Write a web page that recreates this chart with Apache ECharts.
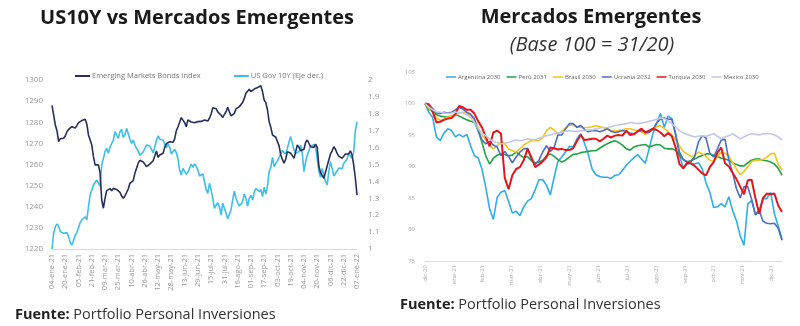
<!DOCTYPE html>
<html>
<head>
<meta charset="utf-8">
<script src="https://cdn.jsdelivr.net/npm/echarts@6/dist/echarts.min.js"></script>
<style>
html,body{margin:0;padding:0;background:#fff;}
#c{width:800px;height:326px;}
</style>
</head>
<body>
<div id="c"></div>
<script>
// ---------- Left chart data (every 2 days from 04-ene-21 to 07-ene-22) ----------
const leftStart = '2021-01-04';
const leftStepDays = 2;
const leftTicks = ['04-ene-21','20-ene-21','05-feb-21','21-feb-21','09-mar-21','25-mar-21','10-abr-21','26-abr-21','12-may-21','28-may-21','13-jun-21','29-jun-21','15-jul-21','31-jul-21','16-ago-21','01-sep-21','17-sep-21','03-oct-21','19-oct-21','04-nov-21','20-nov-21','06-dic-21','22-dic-21','07-ene-22'];
const embi = [
1288,1283.4,1278.7,1276,1270.8,1272.2,1272.4,1272.4,1273.5,1275.5,
1276.6,1277.4,1277.9,1277.4,1277.3,1278.4,1279.8,1280.4,1280.8,1281.4,
1281.4,1279.2,1274,1273.2,1269.2,1263.7,1259.8,1259.3,1259.8,1256,
1243.2,1239.3,1244,1247.6,1247.6,1248.6,1247.6,1248.7,1249.5,1248.2,
1248.4,1246.8,1245.1,1244,1245.1,1245.6,1248.4,1251.1,1251.9,1252.4,
1255.8,1258.2,1260.6,1262,1261.8,1261.2,1260.2,1259,1258.3,1260.2,
1259.9,1261.8,1264,1266.4,1263.4,1264.5,1265,1265.3,1268.1,1269.9,
1270.3,1270.8,1270.5,1270.5,1272.1,1276,1277.9,1280,1282.2,1281.5,
1279.8,1277.9,1281.1,1280.8,1280.1,1279.5,1279.8,1280.3,1280.3,1280.3,
1280.4,1280.8,1281.1,1281.4,1280.6,1281.9,1283.9,1286.9,1286.9,1286.4,
1284.9,1284.2,1283.3,1282.3,1282.6,1285,1287.1,1285,1283,1282.2,
1284.2,1286.3,1287.1,1287.4,1288.2,1289.3,1291.3,1293.7,1294.3,1295.6,
1294.5,1295,1295.7,1295.6,1296.4,1297.2,1297.3,1294.5,1290.5,1289.3,
1285.8,1280.3,1277.6,1274,1273.3,1272.9,1272.2,1268.8,1264.5,1262.4,
1260.6,1262.6,1266.1,1266.9,1265.3,1264.2,1262.9,1266.1,1269.2,1268.1,
1266.5,1265.8,1267.2,1270.5,1271.6,1270.8,1268.4,1269.2,1268.1,1269.7,
1268.1,1259.3,1256.1,1255.5,1253.5,1252.7,1259.3,1262.1,1265,1266.5,
1268.4,1267.2,1265.3,1264,1263.2,1262.9,1263.7,1265,1264.8,1265,
1266.5,1264.5,1259.8,1253.5,1245.5];
const us10y = [
1.0,1.093,1.132,1.148,1.136,1.103,1.108,1.093,1.097,1.097,
1.073,1.04,1.024,1.05,1.083,1.097,1.128,1.156,1.172,1.162,
1.191,1.172,1.25,1.32,1.329,1.379,1.389,1.408,1.418,1.37,
1.497,1.536,1.576,1.596,1.566,1.602,1.606,1.645,1.694,1.704,
1.655,1.694,1.708,1.661,1.675,1.714,1.714,1.649,1.625,1.645,
1.615,1.596,1.58,1.554,1.562,1.574,1.594,1.615,1.625,1.609,
1.59,1.57,1.602,1.645,1.669,1.649,1.653,1.645,1.621,1.6,
1.621,1.602,1.562,1.566,1.59,1.57,1.533,1.467,1.438,1.477,
1.483,1.442,1.454,1.465,1.503,1.483,1.503,1.491,1.467,1.432,
1.438,1.444,1.398,1.353,1.329,1.389,1.349,1.3,1.241,1.25,
1.274,1.25,1.201,1.27,1.266,1.211,1.179,1.172,1.231,1.29,
1.343,1.3,1.274,1.254,1.266,1.282,1.325,1.3,1.254,1.3,
1.318,1.29,1.335,1.359,1.353,1.339,1.353,1.31,1.365,1.325,
1.373,1.458,1.483,1.542,1.487,1.491,1.523,1.542,1.531,1.582,
1.59,1.562,1.596,1.635,1.665,1.675,1.586,1.566,1.556,1.576,
1.615,1.566,1.458,1.517,1.554,1.546,1.609,1.602,1.617,1.602,
1.531,1.458,1.424,1.477,1.467,1.398,1.379,1.458,1.517,1.477,
1.432,1.438,1.463,1.479,1.483,1.475,1.507,1.503,1.531,1.566,
1.556,1.536,1.576,1.7,1.753];

// ---------- Right chart data (every 4 days from 31-dic-20) ----------
const rightStepDays = 4;
const rightTicks = ['dic-20','ene-21','feb-21','mar-21','abr-21','may-21','jun-21','jul-21','ago-21','sep-21','oct-21','nov-21','dic-21'];
const argentina = [
100,98.6,97.8,94.7,94.1,95.3,96.0,95.7,94.7,95.1,
94.7,95.1,93.3,91.7,91.4,89.6,86.7,83.3,81.6,85.1,
85.9,86.2,84.5,82.6,82.9,82.2,83.6,84.5,84.9,86.3,
87.9,87.9,87.0,85.5,88.3,90.8,91.5,92.3,93.2,93.1,
94.4,95.2,93.7,91.9,89.6,88.7,88.4,88.3,88.3,88.1,
88.6,88.7,89.4,90.2,90.8,91.4,91.9,91.2,90.5,92.8,
95.2,96.9,98.4,96.2,98.0,97.6,95.2,91.7,89.8,90.3,
90.5,90.4,90.6,89.6,87.4,85.9,83.5,83.6,84.1,83.6,
85.2,83.0,81.4,79.0,77.5,84.1,84.6,82.4,83.1,84.9,
84.9,85.9,82.5,80.6,78.5];
const peru = [
100,99.1,98.8,98.2,98.0,97.9,97.8,98.0,98.3,98.0,
97.7,97.4,97.2,97.0,95.7,93.8,91.7,90.4,91.3,91.8,
92.0,91.9,91.7,91.8,92.3,91.8,91.4,91.6,90.9,90.6,
90.7,91.0,91.7,92.0,91.6,91.1,90.7,91.0,91.5,91.9,
92.0,92.2,92.3,92.4,92.5,92.5,92.9,93.3,93.6,93.9,
94.1,93.8,93.4,92.8,92.6,93.1,93.3,93.4,93.5,93.1,
93.3,93.5,93.4,92.9,92.8,92.8,92.6,91.8,91.1,90.7,
90.9,91.2,91.5,91.8,92.0,92.0,91.8,91.6,91.3,91.2,
91.0,90.6,90.3,90.1,90.1,90.6,91.0,91.2,91.2,91.0,
90.9,90.7,90.4,89.7,88.6];
const brasil = [
100,99.3,98.6,97.7,97.3,97.5,97.8,98.0,98.2,98.5,
98.6,98.4,98.0,97.5,96.2,95.0,94.2,93.4,92.8,93.3,
93.9,93.6,92.8,92.5,92.3,92.8,93.4,93.8,94.1,94.1,
94.1,94.6,95.7,96.2,95.8,95.2,95.6,96.1,96.6,96.5,
96.4,96.2,96.2,96.2,96.3,96.5,96.3,96.2,95.9,95.7,
95.7,95.7,95.8,96.0,96.0,95.8,95.7,95.5,95.1,95.4,
95.9,96.3,96.5,96.0,95.6,95.0,94.2,93.3,92.4,92.0,
91.6,91.7,92.3,92.0,91.6,91.0,90.8,91.6,92.2,92.1,
91.7,90.6,89.6,88.7,89.2,90.0,90.8,91.0,91.0,91.1,
91.5,92.0,92.1,90.4,89.4];
const ucrania = [
100,99.9,99.2,98.5,98.4,98.6,98.5,98.6,99.0,99.4,
99.1,98.6,98.3,97.6,95.7,94.2,93.6,94.0,93.4,93.1,
91.7,92.4,91.6,90.6,91.5,92.3,92.8,92.9,91.2,90.3,
91.0,92.3,93.3,92.4,93.0,95.0,95.0,96.0,96.8,96.8,
96.2,96.5,95.9,95.5,95.7,95.7,95.5,95.7,96.0,95.6,
95.4,95.5,95.7,95.5,95.3,95.2,95.5,95.7,95.5,95.4,
95.9,96.9,97.5,97.7,97.5,97.5,95.0,92.3,91.1,90.8,
90.8,91.6,93.9,94.9,94.5,92.1,91.5,92.8,94.2,94.3,
91.0,89.0,86.5,85.0,86.8,86.8,84.8,82.3,83.0,81.3,
81.0,80.9,81.0,80.2,78.3];
const turquia = [
100,99.8,98.7,97.0,97.1,97.4,97.6,97.7,98.3,99.6,
99.4,99.0,99.0,98.4,97.2,96.2,94.7,93.2,95.4,95.7,
95.2,88.2,86.4,88.6,89.6,89.9,91.0,92.8,91.5,89.9,
90.3,90.8,91.5,93.0,92.9,92.7,92.8,92.6,92.6,92.9,
94.0,95.0,94.2,94.3,94.4,94.4,94.0,94.4,94.9,94.6,
94.9,95.0,94.9,95.7,95.0,95.1,95.6,96.0,95.4,95.7,
96.0,95.8,95.4,94.8,95.3,94.8,93.0,90.4,89.7,90.6,
90.5,90.1,89.5,88.9,88.6,89.9,90.7,92.2,93.0,90.5,
90.0,89.0,88.0,86.8,85.6,87.8,87.9,85.0,82.5,85.0,
85.7,85.6,85.7,83.8,82.8];
const mexico = [
100,99.4,99.0,98.7,98.6,98.5,98.4,98.5,98.6,98.6,
98.5,98.2,97.8,97.0,96.0,95.3,94.9,94.3,94.0,93.8,
93.6,93.7,93.8,94.0,94.2,94.1,94.2,94.4,94.3,94.2,
94.5,94.7,94.9,95.0,95.2,95.3,95.4,95.6,95.7,95.6,
95.6,95.7,95.7,95.8,95.8,96.0,96.1,96.2,96.2,96.3,
96.5,96.6,96.7,96.8,97.0,96.9,96.8,96.9,97.0,97.2,
97.3,97.5,97.7,97.6,97.3,96.8,96.3,95.7,95.3,95.1,
94.9,94.7,94.8,94.9,94.8,95.0,95.2,94.8,94.4,94.7,
94.9,95.2,94.8,94.4,94.7,95.0,95.2,95.1,95.0,95.2,
95.2,95.2,95.0,94.7,94.2];

// ---------- build ----------
const MES = ['ene','feb','mar','abr','may','jun','jul','ago','sep','oct','nov','dic'];
const d0 = new Date(leftStart + 'T00:00:00Z');
const leftDates = embi.map((_, i) => {
  const d = new Date(d0.getTime() + i * leftStepDays * 86400000);
  return String(d.getUTCDate()).padStart(2,'0') + '-' + MES[d.getUTCMonth()] + '-' + String(d.getUTCFullYear()).slice(2);
});
const pairs = arr => arr.map((v, i) => [i * rightStepDays, v]);
const MONTH = 365 / 12;
const FONT = "'Open Sans', 'Noto Sans', sans-serif";

const chart = echarts.init(document.getElementById('c'), null, {renderer: 'canvas'});

const rightSeries = [
  {name: 'Argentina 2030', data: argentina, color: '#2eaee6', w: 1.6},
  {name: 'Perú 2031', data: peru, color: '#23a347', w: 1.6},
  {name: 'Brasil 2030', data: brasil, color: '#f5c518', w: 1.6},
  {name: 'Ucrania 2032', data: ucrania, color: '#4a6fc2', w: 1.6},
  {name: 'Turquía 2030', data: turquia, color: '#e4161d', w: 2},
  {name: 'Mexico 2030', data: mexico, color: '#c3c8e6', w: 1.6}
];

chart.setOption({
  animation: false,
  textStyle: {fontFamily: FONT},
  grid: [
    {left: 52, top: 80, width: 305, height: 169},
    {left: 425, top: 72, width: 357, height: 189}
  ],
  legend: [
    {
      data: ['Emerging Markets Bonds Index', 'US Gov 10Y (Eje der.)'],
      left: 70, top: 67, icon: 'rect', itemWidth: 15, itemHeight: 2, itemGap: 33,
      textStyle: {fontSize: 7.5, color: '#777', fontFamily: FONT, padding: [0,0,0,-3]}
    },
    {
      data: rightSeries.map(s => s.name),
      left: 441, top: 69, icon: 'rect', itemWidth: 10, itemHeight: 1.5, itemGap: 6,
      textStyle: {fontSize: 6, color: '#666', fontFamily: FONT, padding: [0,0,0,-3]}
    }
  ],
  xAxis: [
    {
      type: 'category', gridIndex: 0, data: leftDates, boundaryGap: false,
      axisLine: {lineStyle: {color: '#d9d9d9'}}, axisTick: {show: false},
      axisLabel: {interval: 7, rotate: 90, fontSize: 7.5, color: '#999', margin: 5,
        formatter: (v, i) => leftTicks[Math.round(i / 8)] || ''}
    },
    {
      type: 'value', gridIndex: 1, min: 0, max: 376, interval: MONTH,
      splitLine: {show: false},
      axisLine: {show: true, lineStyle: {color: '#d9d9d9'}}, axisTick: {show: false},
      axisLabel: {rotate: 90, fontSize: 6, color: '#aaa', margin: 4, showMaxLabel: false,
        formatter: v => { const k = Math.round(v / MONTH); return Math.abs(v - k * MONTH) < 0.5 ? (rightTicks[k] || '') : ''; }}
    }
  ],
  yAxis: [
    {
      type: 'value', gridIndex: 0, min: 1220, max: 1300, interval: 10, position: 'left',
      splitLine: {show: false}, axisLine: {show: false}, axisTick: {show: false},
      axisLabel: {fontSize: 8, color: '#999', margin: 9, formatter: v => String(v)}
    },
    {
      type: 'value', gridIndex: 0, min: 1, max: 2, interval: 0.1, position: 'right',
      splitLine: {show: false}, axisLine: {show: false}, axisTick: {show: false},
      axisLabel: {fontSize: 8, color: '#999', margin: 11,
        formatter: v => String(Math.round(v * 10) / 10)}
    },
    {
      type: 'value', gridIndex: 1, min: 75, max: 105, interval: 5,
      splitLine: {show: false}, axisLine: {show: false}, axisTick: {show: false},
      axisLabel: {fontSize: 6, color: '#aaa', margin: 10, formatter: v => String(v)}
    }
  ],
  series: [
    {name: 'Emerging Markets Bonds Index', type: 'line', xAxisIndex: 0, yAxisIndex: 0, data: embi,
      symbol: 'none', color: '#263058', lineStyle: {width: 1.6, color: '#263058'}, z: 3},
    {name: 'US Gov 10Y (Eje der.)', type: 'line', xAxisIndex: 0, yAxisIndex: 1, data: us10y,
      symbol: 'none', color: '#3cbfea', lineStyle: {width: 1.6, color: '#3cbfea'}, z: 2}
  ].concat(rightSeries.map(s => ({
    name: s.name, type: 'line', xAxisIndex: 1, yAxisIndex: 2, data: pairs(s.data),
    symbol: 'none', color: s.color, lineStyle: {width: s.w, color: s.color}
  }))),
  graphic: [
    {type: 'text', x: 197, y: 18, style: {text: 'US10Y vs Mercados Emergentes', fill: '#1a1a1a',
      font: "bold 20px " + FONT, align: 'center', verticalAlign: 'middle'}},
    {type: 'text', x: 591, y: 17, style: {text: 'Mercados Emergentes', fill: '#1a1a1a',
      font: "bold 20px " + FONT, align: 'center', verticalAlign: 'middle'}},
    {type: 'text', x: 592, y: 45, style: {text: '(Base 100 = 31/20)', fill: '#333',
      font: "italic 20px " + FONT, align: 'center', verticalAlign: 'middle'}},
    {type: 'text', x: 15, y: 315, style: {text: '{b|Fuente:} Portfolio Personal Inversiones', fill: '#333',
      font: "14.5px " + FONT, verticalAlign: 'middle',
      rich: {b: {fontWeight: 'bold', fontSize: 14.5, fontFamily: FONT, fill: '#222'}}}},
    {type: 'text', x: 400, y: 305, style: {text: '{b|Fuente:} Portfolio Personal Inversiones', fill: '#333',
      font: "14.5px " + FONT, verticalAlign: 'middle',
      rich: {b: {fontWeight: 'bold', fontSize: 14.5, fontFamily: FONT, fill: '#222'}}}}
  ]
});
</script>
</body>
</html>
